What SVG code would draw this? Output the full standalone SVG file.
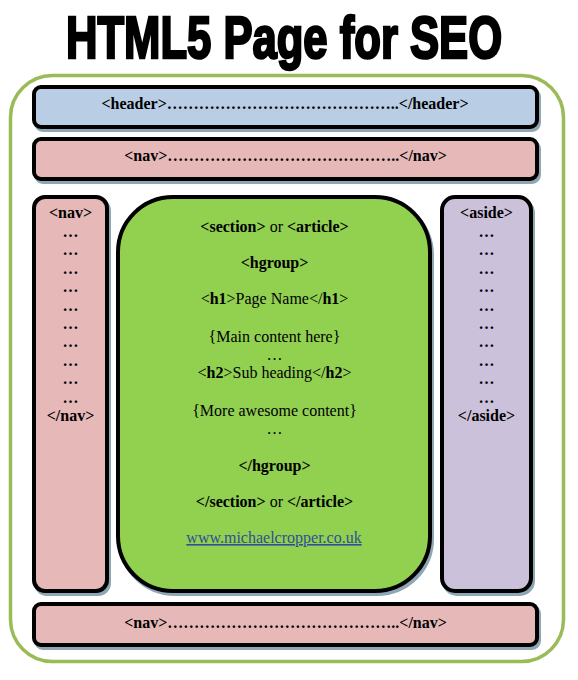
<svg xmlns="http://www.w3.org/2000/svg" width="578" height="680" viewBox="0 0 578 680">
<style>
.box{stroke:#000;stroke-width:4}
.sh{fill:#8fa6b4;stroke:#8fa6b4;stroke-width:4}
.t{font-family:"Liberation Serif","Times New Roman",serif;font-size:16px;fill:#000;text-anchor:middle}
.b{font-weight:bold}
.c{font-family:"Liberation Serif","Times New Roman",serif;font-size:16px;fill:#000;text-anchor:middle}
</style>
<rect width="578" height="680" fill="#fff"/>
<g id="title">
<text transform="translate(284,57.5) scale(0.727,1)" x="0" y="0" text-anchor="middle" font-family="'Liberation Sans',Arial,sans-serif" font-weight="bold" font-size="60" fill="#000" stroke="#000" stroke-width="2.6">HTML5 Page for SEO</text>
</g>
<g id="page">
<rect x="10.5" y="75.5" width="553" height="586" rx="42" fill="#fff" stroke="#9bbb59" stroke-width="3.5"/>
</g>
<g id="header">
<rect class="sh" x="36" y="90" width="503" height="40" rx="7"/>
<rect class="box" x="34" y="87" width="503" height="40" rx="7" fill="#b9cde5"/>
<text class="t b" x="285" y="109">&lt;header&gt;……………………………………..&lt;/header&gt;</text>
</g>
<g id="nav-top">
<rect class="sh" x="36" y="142" width="503" height="40" rx="7"/>
<rect class="box" x="34" y="139" width="503" height="40" rx="7" fill="#e6b9b8"/>
<text class="t b" x="285.5" y="161">&lt;nav&gt;……………………………………..&lt;/nav&gt;</text>
</g>
<g id="nav-left">
<rect class="sh" x="36" y="200" width="73" height="394" rx="11"/>
<rect class="box" x="34" y="197" width="73" height="394" rx="11" fill="#e6b9b8"/>
<g class="t b">
<text x="70.5" y="218">&lt;nav&gt;</text>
<text x="70.5" y="237">…</text>
<text x="70.5" y="255.4">…</text>
<text x="70.5" y="273.8">…</text>
<text x="70.5" y="292.2">…</text>
<text x="70.5" y="310.6">…</text>
<text x="70.5" y="329">…</text>
<text x="70.5" y="347.4">…</text>
<text x="70.5" y="365.8">…</text>
<text x="70.5" y="384.2">…</text>
<text x="70.5" y="402.6">…</text>
<text x="70.5" y="421">&lt;/nav&gt;</text>
</g>
</g>
<g id="section">
<rect class="sh" x="120" y="200" width="312" height="394" rx="55"/>
<rect class="box" x="118" y="197" width="312" height="394" rx="55" fill="#92d050"/>
<g class="c">
<text x="274.5" y="231.5"><tspan class="b">&lt;section&gt;</tspan> or <tspan class="b">&lt;article&gt;</tspan></text>
<text x="274.5" y="267.5" class="b">&lt;hgroup&gt;</text>
<text x="274.5" y="304">&lt;<tspan class="b">h1</tspan>&gt;Page Name&lt;/<tspan class="b">h1</tspan>&gt;</text>
<text x="274.5" y="341.5">{Main content here}</text>
<text x="274.5" y="360">…</text>
<text x="274.5" y="378">&lt;<tspan class="b">h2</tspan>&gt;Sub heading&lt;/<tspan class="b">h2</tspan>&gt;</text>
<text x="274.5" y="416">{More awesome content}</text>
<text x="274.5" y="433.5">…</text>
<text x="274.5" y="470.5" class="b">&lt;/hgroup&gt;</text>
<text x="274.5" y="507"><tspan class="b">&lt;/section&gt;</tspan> or <tspan class="b">&lt;/article&gt;</tspan></text>
<text x="274" y="543" fill="#2f4f9a" text-decoration="underline">www.michaelcropper.co.uk</text>
</g>
</g>
<g id="aside">
<rect class="sh" x="444" y="200" width="89" height="394" rx="13"/>
<rect class="box" x="442" y="197" width="89" height="394" rx="13" fill="#ccc1da"/>
<g class="t b">
<text x="486.5" y="218">&lt;aside&gt;</text>
<text x="486.5" y="237">…</text>
<text x="486.5" y="255.4">…</text>
<text x="486.5" y="273.8">…</text>
<text x="486.5" y="292.2">…</text>
<text x="486.5" y="310.6">…</text>
<text x="486.5" y="329">…</text>
<text x="486.5" y="347.4">…</text>
<text x="486.5" y="365.8">…</text>
<text x="486.5" y="384.2">…</text>
<text x="486.5" y="402.6">…</text>
<text x="486.5" y="421">&lt;/aside&gt;</text>
</g>
</g>
<g id="nav-bottom">
<rect class="sh" x="36" y="607" width="503" height="41" rx="7"/>
<rect class="box" x="34" y="604" width="503" height="41" rx="7" fill="#e6b9b8"/>
<text class="t b" x="285.5" y="628">&lt;nav&gt;……………………………………..&lt;/nav&gt;</text>
</g>
</svg>
